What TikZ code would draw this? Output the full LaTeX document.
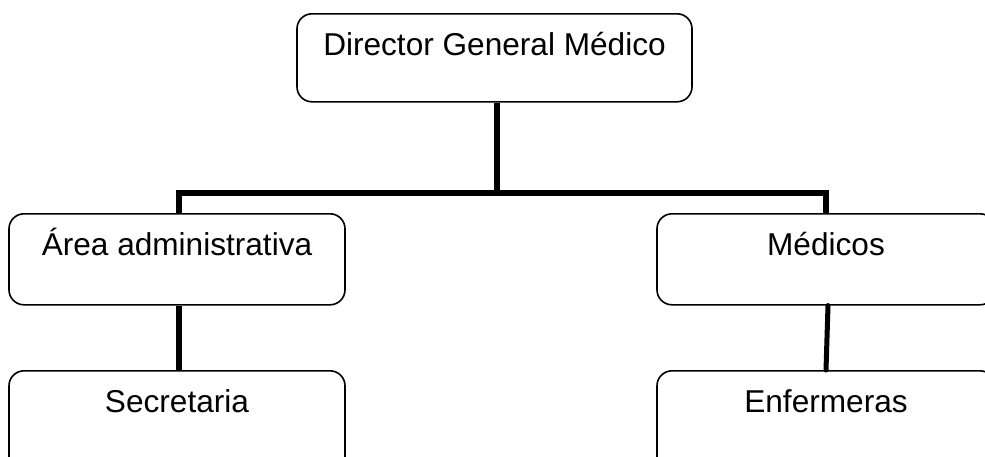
\documentclass[tikz,border=0pt]{standalone}
\usepackage{fontspec}
\setmainfont{Liberation Sans}
\begin{document}
\begin{tikzpicture}[x=1pt,y=-1pt,
  orgbox/.style={draw=black, line width=1.6pt, rounded corners=15pt,
    inner sep=0pt, anchor=north, text height=42pt, text depth=49pt,
    font=\fontsize{31.6}{38}\selectfont},
  conn/.style={line width=6pt, line join=miter},
  thinconn/.style={line width=5pt, line cap=round}]
  \clip (0,0) rectangle (985,456);
  \fill[white] (0,0) rectangle (985,456);

  % boxes
  \node[orgbox, minimum width=395pt, text depth=46pt] (dir) at (494.5,13) {Director General Médico};
  \node[orgbox, minimum width=336pt] (area) at (177,213) {Área administrativa};
  \node[orgbox, minimum width=338pt] (med) at (826,213) {Médicos};
  \node[orgbox, minimum width=336pt, text depth=130pt] (sec) at (177,370) {Secretaria};
  \node[orgbox, minimum width=338pt, text depth=130pt] (enf) at (826,370) {Enfermeras};

  % connectors
  \coordinate (bus) at (0,192.5);
  \draw[conn] ([xshift=2.5pt]dir.south) -- ([xshift=2.5pt]dir.south |- bus);
  \draw[conn] ([xshift=2pt]area.north) -- ([xshift=2pt]area.north |- bus)
              -- (med.north |- bus) -- (med.north);
  \draw[conn] ([xshift=2pt]area.south) -- ([xshift=2pt]sec.north);
  \draw[thinconn] ([xshift=2pt]med.south) -- (enf.north);
\end{tikzpicture}
\end{document}
